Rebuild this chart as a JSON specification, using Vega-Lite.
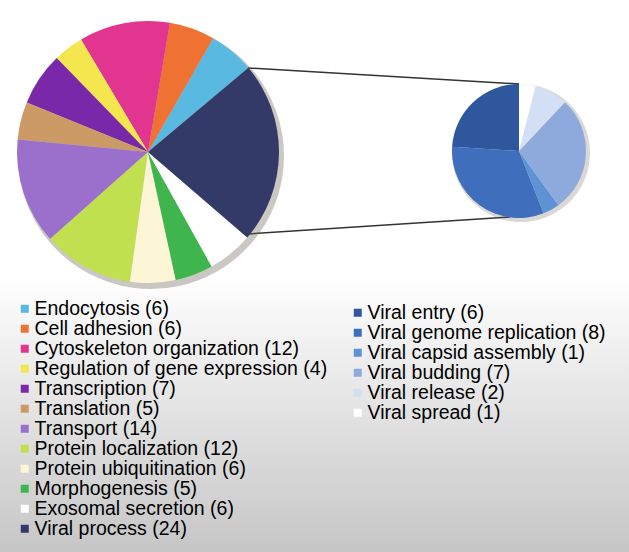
{
  "$schema": "https://vega.github.io/schema/vega-lite/v6.json",
  "width": 629,
  "height": 552,
  "padding": 0,
  "autosize": {"type": "none"},
  "config": {
    "view": {
      "stroke": null,
      "fill": {
        "gradient": "linear",
        "x1": 0, "y1": 0, "x2": 0, "y2": 1,
        "stops": [
          {"offset": 0, "color": "#ffffff"},
          {"offset": 0.5, "color": "#ffffff"},
          {"offset": 0.62, "color": "#f1f1f1"},
          {"offset": 1, "color": "#c6c6c6"}
        ]
      }
    },
    "legend": {
      "orient": "none",
      "title": null,
      "padding": 0,
      "symbolType": "square",
      "symbolSize": 64,
      "symbolStrokeWidth": 0,
      "labelFont": "Liberation Sans",
      "labelFontSize": 19.5,
      "labelColor": "#000000",
      "labelOffset": 0,
      "labelLimit": 400
    }
  },
  "encoding": {
    "x": {"datum": "All processes", "type": "nominal", "scale": {"type": "point", "domain": ["All processes", "Viral process"], "range": [148, 519], "padding": 0}, "axis": null},
    "y": {"datum": "All processes", "type": "nominal", "scale": {"type": "point", "domain": ["All processes", "Viral process"], "range": [152, 151], "padding": 0}, "axis": null}
  },
  "layer": [
    {
      "data": {"values": [{"link": "upper"}]},
      "mark": {"type": "rule", "color": "#333333", "strokeWidth": 1.5, "xOffset": 100, "yOffset": -84, "x2Offset": 0, "y2Offset": -67},
      "encoding": {
        "x": {"datum": "All processes", "type": "nominal"},
        "y": {"datum": "All processes", "type": "nominal"},
        "x2": {"datum": "Viral process"},
        "y2": {"datum": "Viral process"}
      }
    },
    {
      "data": {"values": [{"link": "lower"}]},
      "mark": {"type": "rule", "color": "#333333", "strokeWidth": 1.5, "xOffset": 100, "yOffset": 82, "x2Offset": -9, "y2Offset": 66},
      "encoding": {
        "x": {"datum": "All processes", "type": "nominal"},
        "y": {"datum": "All processes", "type": "nominal"},
        "x2": {"datum": "Viral process"},
        "y2": {"datum": "Viral process"}
      }
    },
    {
      "data": {"values": [
        {"term": "Endocytosis (6)", "genes": 6},
        {"term": "Cell adhesion (6)", "genes": 6},
        {"term": "Cytoskeleton organization (12)", "genes": 12},
        {"term": "Regulation of gene expression (4)", "genes": 4},
        {"term": "Transcription (7)", "genes": 7},
        {"term": "Translation (5)", "genes": 5},
        {"term": "Transport (14)", "genes": 14},
        {"term": "Protein localization (12)", "genes": 12},
        {"term": "Protein ubiquitination (6)", "genes": 6},
        {"term": "Morphogenesis (5)", "genes": 5},
        {"term": "Exosomal secretion (6)", "genes": 6},
        {"term": "Viral process (24)", "genes": 24}
      ]},
      "transform": [{"window": [{"op": "row_number", "as": "i"}]}],
      "encoding": {
        "x": {"datum": "All processes", "type": "nominal"},
        "y": {"datum": "All processes", "type": "nominal"},
        "theta": {"field": "genes", "type": "quantitative", "stack": true, "scale": {"range": [0.8727, 7.1559]}},
        "order": {"field": "i", "type": "quantitative", "sort": "descending"}
      },
      "layer": [
        {
          "mark": {"type": "arc", "outerRadius": 133, "fill": "#6b6055", "opacity": 0.35, "xOffset": 3, "yOffset": 4, "stroke": null}
        },
        {
          "mark": {"type": "arc", "outerRadius": 131, "stroke": null},
          "encoding": {
            "color": {
              "field": "term", "type": "nominal", "sort": null,
              "scale": {"range": ["#5ab9e0", "#f07232", "#e2358f", "#f3e64e", "#7a28aa", "#cc9a64", "#9b70cc", "#c0e050", "#fcf5d6", "#3fb64d", "#ffffff", "#333a68"]},
              "legend": {"legendX": 15, "legendY": 299, "rowPadding": -1}
            }
          }
        }
      ]
    },
    {
      "data": {"values": [
        {"term": "Viral entry (6)", "genes": 6},
        {"term": "Viral genome replication (8)", "genes": 8},
        {"term": "Viral capsid assembly (1)", "genes": 1},
        {"term": "Viral budding (7)", "genes": 7},
        {"term": "Viral release (2)", "genes": 2},
        {"term": "Viral spread (1)", "genes": 1}
      ]},
      "transform": [{"window": [{"op": "row_number", "as": "i"}]}],
      "encoding": {
        "x": {"datum": "Viral process", "type": "nominal"},
        "y": {"datum": "Viral process", "type": "nominal"},
        "theta": {"field": "genes", "type": "quantitative", "stack": true, "scale": {"range": [0, 6.2832]}},
        "order": {"field": "i", "type": "quantitative", "sort": "descending"}
      },
      "layer": [
        {
          "mark": {"type": "arc", "outerRadius": 69, "fill": "#6b6055", "opacity": 0.25, "xOffset": 2, "yOffset": 2, "stroke": null}
        },
        {
          "mark": {"type": "arc", "outerRadius": 67, "stroke": null},
          "encoding": {
            "color": {
              "field": "term", "type": "nominal", "sort": null,
              "scale": {"range": ["#2f579e", "#3f6ebd", "#5d93d4", "#8eaadc", "#d3dff5", "#ffffff"]},
              "legend": {"legendX": 348, "legendY": 303, "rowPadding": -1}
            }
          }
        }
      ]
    }
  ],
  "resolve": {"scale": {"theta": "independent", "color": "independent"}, "legend": {"color": "independent"}}
}
